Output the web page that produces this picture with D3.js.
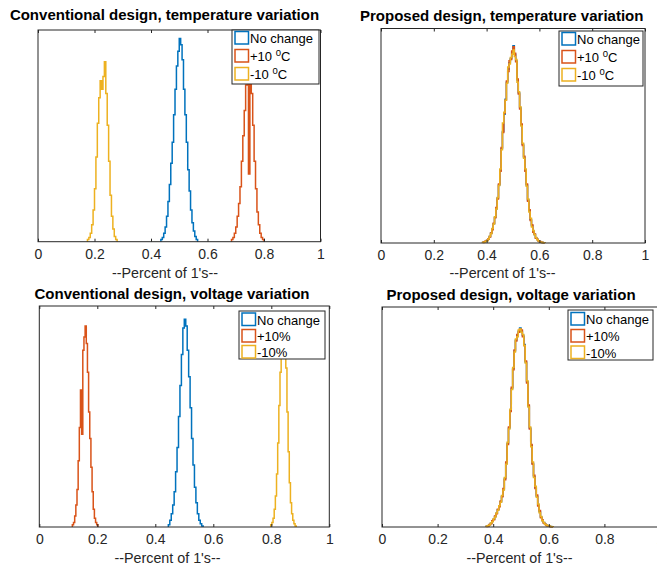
<!DOCTYPE html>
<html>
<head>
<meta charset="utf-8">
<script src="https://cdn.jsdelivr.net/npm/d3@7"></script>
<style>
  body { margin: 0; background: #fff; }
  text { font-family: "Liberation Sans", Arial, Helvetica, sans-serif; }
</style>
</head>
<body>
<svg id="fig" width="657" height="569"></svg>
<script>
// histogram bin width (fraction of 1's)
const binW = 0.005;
const binWNarrow = 0.004;

// --- conventional design, temperature variation ---
const convTempNoChangeStart = 0.435;
const convTempNoChange = [0.01, 0.02, 0.04, 0.07, 0.12, 0.19, 0.27, 0.37, 0.47, 0.60, 0.72, 0.83, 0.90, 0.96, 0.93, 0.86, 0.72, 0.60, 0.47, 0.34, 0.24, 0.15, 0.09, 0.05, 0.025, 0.01];
const convTempHotStart = 0.685;
const convTempHot = [0.01, 0.02, 0.04, 0.07, 0.12, 0.18, 0.26, 0.38, 0.50, 0.62, 0.74, 0.82, 0.32, 0.88, 0.70, 0.55, 0.38, 0.25, 0.14, 0.08, 0.04, 0.02, 0.01];
const convTempColdStart = 0.175;
const convTempCold = [0.01, 0.02, 0.04, 0.08, 0.15, 0.25, 0.40, 0.56, 0.68, 0.76, 0.72, 0.78, 0.85, 0.70, 0.55, 0.38, 0.22, 0.12, 0.06, 0.025, 0.01];

// --- proposed design, temperature variation ---
const propTempStart = 0.385;
const propTempNoChange = [0.003, 0.005, 0.008, 0.012, 0.018, 0.03, 0.045, 0.065, 0.09, 0.12, 0.16, 0.21, 0.27, 0.34, 0.44, 0.52, 0.60, 0.67, 0.75, 0.81, 0.84, 0.86, 0.89, 0.92, 0.88, 0.85, 0.76, 0.70, 0.63, 0.55, 0.46, 0.40, 0.34, 0.27, 0.20, 0.15, 0.11, 0.08, 0.055, 0.04, 0.025, 0.016, 0.01, 0.006, 0.004, 0.002, 0.001];
const propTempHot = [0.002, 0.006, 0.009, 0.013, 0.02, 0.028, 0.047, 0.062, 0.092, 0.118, 0.165, 0.205, 0.275, 0.335, 0.445, 0.515, 0.605, 0.665, 0.755, 0.80, 0.85, 0.855, 0.895, 0.915, 0.885, 0.845, 0.765, 0.695, 0.625, 0.555, 0.455, 0.405, 0.335, 0.275, 0.195, 0.155, 0.105, 0.085, 0.05, 0.042, 0.022, 0.017, 0.009, 0.007, 0.003, 0.002, 0.001];
const propTempCold = [0.003, 0.004, 0.008, 0.011, 0.019, 0.031, 0.043, 0.068, 0.088, 0.122, 0.158, 0.212, 0.268, 0.345, 0.435, 0.56, 0.61, 0.665, 0.745, 0.82, 0.835, 0.865, 0.88, 0.90, 0.87, 0.855, 0.75, 0.705, 0.635, 0.545, 0.465, 0.395, 0.345, 0.265, 0.205, 0.145, 0.115, 0.075, 0.058, 0.038, 0.026, 0.015, 0.011, 0.005, 0.004, 0.002, 0.001];

// --- conventional design, voltage variation ---
const convVoltNoChangeStart = 0.445;
const convVoltNoChange = [0.01, 0.03, 0.06, 0.10, 0.16, 0.25, 0.36, 0.50, 0.64, 0.78, 0.90, 0.94, 0.91, 0.80, 0.68, 0.54, 0.40, 0.28, 0.18, 0.11, 0.06, 0.03, 0.015, 0.005];
const convVoltHighStart = 0.114;
const convVoltHigh = [0.01, 0.02, 0.05, 0.10, 0.17, 0.30, 0.45, 0.62, 0.42, 0.80, 0.86, 0.91, 0.83, 0.70, 0.52, 0.40, 0.27, 0.16, 0.08, 0.04, 0.02, 0.01];
const convVoltLowStart = 0.798;
const convVoltLow = [0.01, 0.02, 0.04, 0.08, 0.14, 0.24, 0.38, 0.55, 0.70, 0.82, 0.90, 0.93, 0.88, 0.72, 0.52, 0.34, 0.20, 0.11, 0.06, 0.03, 0.015, 0.005];

// --- proposed design, voltage variation ---
const propVoltStart = 0.375;
const propVoltNoChange = [0.003, 0.006, 0.01, 0.017, 0.026, 0.035, 0.048, 0.062, 0.078, 0.095, 0.115, 0.14, 0.17, 0.22, 0.29, 0.38, 0.45, 0.53, 0.63, 0.72, 0.80, 0.85, 0.87, 0.89, 0.905, 0.89, 0.87, 0.83, 0.75, 0.66, 0.55, 0.45, 0.37, 0.29, 0.23, 0.18, 0.14, 0.10, 0.07, 0.045, 0.03, 0.02, 0.012, 0.008, 0.005, 0.003, 0.002, 0.001];
const propVoltHigh = [0.002, 0.005, 0.011, 0.015, 0.028, 0.033, 0.05, 0.06, 0.081, 0.092, 0.118, 0.137, 0.175, 0.215, 0.295, 0.375, 0.455, 0.525, 0.635, 0.715, 0.805, 0.845, 0.875, 0.885, 0.9, 0.895, 0.865, 0.825, 0.755, 0.655, 0.555, 0.445, 0.375, 0.285, 0.235, 0.175, 0.145, 0.095, 0.075, 0.042, 0.032, 0.018, 0.013, 0.007, 0.005, 0.003, 0.001, 0.001];
const propVoltLow = [0.003, 0.007, 0.009, 0.018, 0.024, 0.037, 0.046, 0.064, 0.076, 0.097, 0.112, 0.143, 0.168, 0.225, 0.285, 0.385, 0.445, 0.535, 0.625, 0.725, 0.795, 0.855, 0.865, 0.895, 0.9, 0.885, 0.875, 0.825, 0.745, 0.665, 0.545, 0.455, 0.365, 0.295, 0.225, 0.185, 0.135, 0.105, 0.065, 0.048, 0.028, 0.021, 0.011, 0.009, 0.004, 0.003, 0.002, 0.001];

const titles = [
  'Conventional design, temperature variation',
  'Proposed design, temperature variation',
  'Conventional design, voltage variation',
  'Proposed design, voltage variation'
];
const tempLegend = ['No change', '+10 ^{0}C', '-10 ^{0}C'];
const voltLegend = ['No change', '+10%', '-10%'];
const xLabel = "--Percent of 1's--";
const xTicks = [0, 0.2, 0.4, 0.6, 0.8, 1];
const xTickLabels = ['0', '0.2', '0.4', '0.6', '0.8', '1'];
const colors = ['#0072BD', '#D95319', '#EDB120'];

const panels = [
  { title: titles[0], labels: tempLegend,
    box: { l: 38, r: 320.5, t: 30, b: 241.7 }, titleX: 164.5, titleY: 20, labelX: 165, labelY: 278,
    legend: { x: 232, y: 30, w: 87, h: 54, rows: [8, 26, 44] },
    series: [[convTempNoChangeStart, binW, convTempNoChange], [convTempHotStart, binW, convTempHot], [convTempColdStart, binW, convTempCold]] },
  { title: titles[1], labels: tempLegend,
    box: { l: 381, r: 645, t: 28.5, b: 243 }, titleX: 501.7, titleY: 21, labelX: 502.6, labelY: 278,
    legend: { x: 559, y: 31, w: 84, h: 55, rows: [8, 26, 44] },
    series: [[propTempStart, binW, propTempNoChange], [propTempStart, binW, propTempHot], [propTempStart, binW, propTempCold]] },
  { title: titles[2], labels: voltLegend,
    box: { l: 39.3, r: 329.3, t: 306, b: 527 }, titleX: 172, titleY: 299, labelX: 167.5, labelY: 563,
    legend: { x: 239, y: 311, w: 86, h: 48, rows: [8.5, 25, 41] },
    series: [[convVoltNoChangeStart, binW, convVoltNoChange], [convVoltHighStart, binWNarrow, convVoltHigh], [convVoltLowStart, binWNarrow, convVoltLow]] },
  { title: titles[3], labels: voltLegend,
    box: { l: 382, r: 660, t: 307, b: 527 }, titleX: 511, titleY: 300, labelX: 519.5, labelY: 563,
    legend: { x: 568, y: 310, w: 85, h: 50, rows: [9, 26, 42.5] },
    series: [[propVoltStart, binW, propVoltNoChange], [propVoltStart, binW, propVoltHigh], [propVoltStart, binW, propVoltLow]] }
];

const svg = d3.select('#fig');

// renders '+10 ^{0}C' with a raised 0
let richText = (sel, label) => {
  const parts = label.split(/\^\{(.*?)\}/);
  parts.forEach((p, i) => {
    if (!p) return;
    if (i % 2) {
      sel.append('tspan').attr('font-size', 9.5).attr('dy', -5).text(p);
    } else {
      sel.append('tspan').attr('dy', i > 0 ? 5 : 0).text(p);
    }
  });
};

panels.forEach((pn) => {
  const { l, r, t, b } = pn.box;
  const x = d3.scaleLinear().domain([0, 1]).range([l, r]);
  const y = d3.scaleLinear().domain([0, 1]).range([b, t]);
  const g = svg.append('g');

  // stairs histograms
  const line = d3.line()
    .x(d => x(d[0]))
    .y(d => y(d[1]))
    .curve(d3.curveStepAfter);
  pn.series.forEach((s, k) => {
    const [start, w, counts] = s;
    const pts = [[start, 0]];
    counts.forEach((c, i) => pts.push([start + i * w, c]));
    pts.push([start + counts.length * w, counts[counts.length - 1]]);
    pts.push([start + counts.length * w, 0]);
    g.append('path')
      .attr('d', line(pts))
      .attr('fill', 'none')
      .attr('stroke', colors[k])
      .attr('stroke-width', 1.5);
  });

  // axes
  const bottom = g.append('g')
    .attr('transform', `translate(0,${b})`)
    .call(d3.axisBottom(x).tickValues(xTicks).tickFormat((d, i) => xTickLabels[i])
      .tickSizeInner(-3).tickSizeOuter(0).tickPadding(7.5));
  bottom.select('.domain').remove();
  bottom.selectAll('line').attr('stroke', '#262626');
  bottom.selectAll('text')
    .attr('font-size', 14)
    .attr('fill', '#262626')
    .style('font-family', '"Liberation Sans", Arial, sans-serif');

  const top = g.append('g')
    .attr('transform', `translate(0,${t})`)
    .call(d3.axisTop(x).tickValues(xTicks).tickFormat('').tickSizeInner(-3).tickSizeOuter(0));
  top.select('.domain').remove();
  top.selectAll('line').attr('stroke', '#262626');

  g.append('rect')
    .attr('x', l).attr('y', t)
    .attr('width', r - l).attr('height', b - t)
    .attr('fill', 'none')
    .attr('stroke', '#262626')
    .attr('stroke-width', 1);

  // title and label
  g.append('text')
    .attr('x', pn.titleX).attr('y', pn.titleY)
    .attr('text-anchor', 'middle')
    .attr('font-size', 15)
    .attr('font-weight', 'bold')
    .attr('fill', '#000')
    .text(pn.title);
  g.append('text')
    .attr('x', pn.labelX).attr('y', pn.labelY)
    .attr('text-anchor', 'middle')
    .attr('font-size', 14.3)
    .attr('fill', '#262626')
    .text(xLabel);

  // legend
  const lg = pn.legend;
  const leg = g.append('g').attr('transform', `translate(${lg.x},${lg.y})`);
  leg.append('rect')
    .attr('width', lg.w).attr('height', lg.h)
    .attr('fill', '#fff')
    .attr('stroke', '#262626')
    .attr('stroke-width', 1);
  pn.labels.forEach((lab, k) => {
    const cy = lg.rows[k];
    leg.append('rect')
      .attr('x', 3).attr('y', cy - 6.5)
      .attr('width', 13.5).attr('height', 12.5)
      .attr('fill', '#fff')
      .attr('stroke', colors[k])
      .attr('stroke-width', 1.5);
    const tx = leg.append('text')
      .attr('x', 18).attr('y', cy + 5)
      .attr('font-size', 13)
      .attr('fill', '#000');
    richText(tx, lab);
  });
});
</script>
</body>
</html>
